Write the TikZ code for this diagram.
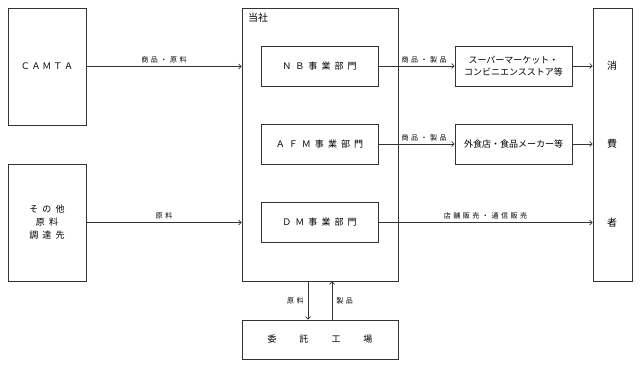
\documentclass[tikz,border=0pt]{standalone}
\usepackage{fontspec}
\setmainfont{Noto Sans CJK JP}
\newfontfamily\jpsp[LetterSpace=45]{Noto Sans CJK JP}
\newfontfamily\jpspa[LetterSpace=20]{Noto Sans CJK JP}
\newfontfamily\jpspl[LetterSpace=36]{Noto Sans CJK JP}
\usetikzlibrary{arrows.meta}
\begin{document}
\begin{tikzpicture}[x=1pt,y=-1pt,
  box/.style={draw=black!80, line width=0.8pt, inner sep=0pt, align=center, font=\fontsize{9}{12}\selectfont},
  arr/.style={draw=black!80, line width=0.7pt, -{Straight Barb[length=2.5pt,width=5pt]}},
  lbl/.style={font=\jpspl\fontsize{7}{8}\selectfont, inner sep=1pt},
  big/.style={font=\fontsize{10}{12}\selectfont, inner sep=0pt},
]
\useasboundingbox (0,0) rectangle (640,367);
% boxes
\node[box, minimum width=78, minimum height=117] (camta) at (47,66.5) {\jpspa ＣＡＭＴＡ};
\node[box, minimum width=78, minimum height=117, font=\jpsp\fontsize{9}{13}\selectfont] (other) at (47,222.5) {その他\\原料\\調達先};
\node[box, minimum width=156, minimum height=273] (tousha) at (320,144.5) {};
\node[big, anchor=west] (toushalbl) at (248,18) {当社};
\node[box, minimum width=117, minimum height=40] (nb) at (319.5,66) {\jpsp ＮＢ事業部門};
\node[box, minimum width=117, minimum height=40] (afm) at (319.5,144) {\jpsp ＡＦＭ事業部門};
\node[box, minimum width=117, minimum height=40] (dm) at (319.5,222.5) {\jpsp ＤＭ事業部門};
\node[box, minimum width=117, minimum height=40] (super) at (513.5,66) {スーパーマーケット・\\コンビニエンスストア等};
\node[box, minimum width=117, minimum height=40] (gai) at (513.5,144) {外食店・食品メーカー等};
\node[box, minimum width=39, minimum height=273] (cons) at (612.5,144.5) {};
\node[big] (c1) at (612,66) {消};
\node[big] (c2) at (612,144) {費};
\node[big] (c3) at (612,222.5) {者};
\node[box, minimum width=156, minimum height=39] (itaku) at (320,339.5) {委\hspace{23pt}託\hspace{23pt}工\hspace{23pt}場};
% connectors
\draw[arr] (camta.east) -- node[lbl, above=2pt] {商品・原料} (camta.east -| tousha.west);
\draw[arr] (other.east) -- node[lbl, above=2pt] {原料} (other.east -| tousha.west);
\draw[arr] (nb.east) -- node[lbl, above=2pt, pos=0.6] {商品・製品} (super.west);
\draw[arr] (afm.east) -- node[lbl, above=2pt, pos=0.6] {商品・製品} (gai.west);
\draw[arr] (dm.east) -- node[lbl, above=2pt] {店舗販売・通信販売} (dm.east -| cons.west);
\draw[arr] (super.east) -- (super.east -| cons.west);
\draw[arr] (gai.east) -- (gai.east -| cons.west);
\draw[arr] ([xshift=-12pt]tousha.south) -- node[lbl, left=3pt] {原料} ([xshift=-12pt]itaku.north);
\draw[arr] ([xshift=12pt]itaku.north) -- node[lbl, right=3pt] {製品} ([xshift=12pt]tousha.south);
\end{tikzpicture}
\end{document}
